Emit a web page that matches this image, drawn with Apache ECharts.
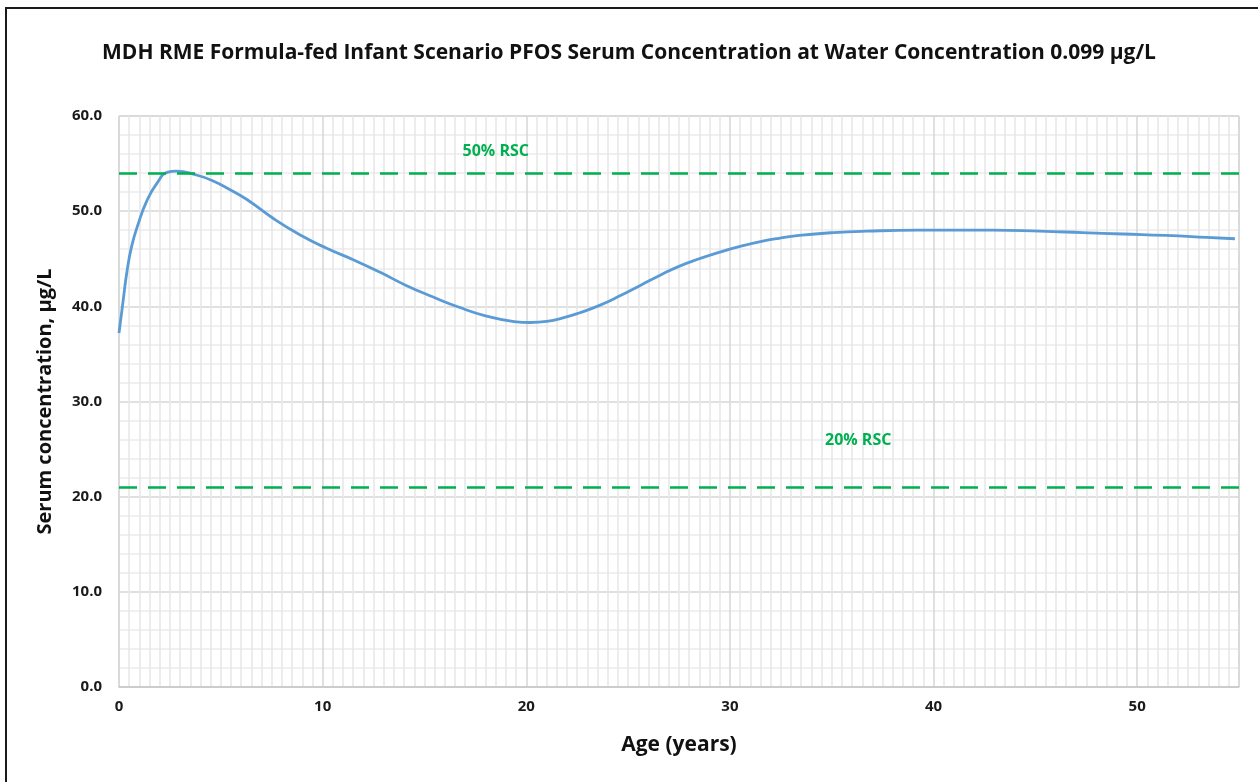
<!DOCTYPE html>
<html>
<head>
<meta charset="utf-8">
<script src="https://cdn.jsdelivr.net/npm/echarts@6/dist/echarts.min.js"></script>
<style>
  html, body { margin: 0; padding: 0; background: #fff; overflow: hidden; }
  #frame { position: absolute; left: 5px; top: 7px; width: 1270px; height: 800px; border: 2px solid #1a1a1a; box-sizing: border-box; }
  #chart { position: absolute; left: 0; top: 0; width: 1258px; height: 782px; }
</style>
</head>
<body>
<div id="frame"></div>
<div id="chart"></div>
<script>
// age (years) and serum concentration (µg/L)
const ages = [0, 0.21, 0.38, 0.62, 0.95, 1.35, 1.85, 2.4, 2.8, 3.8, 4.6, 5.5, 6.3, 7.6, 8.9,
  10.2, 11.5, 12.8, 14.1, 15.4, 16.7, 18.0, 19.4, 20.2, 21.0, 21.8, 22.6, 23.6, 24.6, 25.6, 26.6,
  27.5, 28.5, 29.5, 30.5, 31.5, 32.4, 33.4, 35.1, 36.7, 39.2, 42.9, 45.2, 47.3, 49.3, 51.4, 53.4, 54.8]
const serum = [37.2, 40.7, 43.5, 46.3, 48.7, 51.0, 52.9, 54.1, 54.2, 53.8, 53.2, 52.2, 51.2, 49.2, 47.5,
  46.1, 44.9, 43.6, 42.2, 41.0, 39.9, 39.0, 38.4, 38.3, 38.42, 38.78, 39.3, 40.1, 41.1, 42.2, 43.3,
  44.2, 45.0, 45.7, 46.3, 46.8, 47.15, 47.45, 47.75, 47.9, 48.0, 48.0, 47.9, 47.75, 47.6, 47.45, 47.25, 47.1]

// RSC reference levels
const rscNames = ['50% RSC', '20% RSC']
const rscLevels = [54.0, 21.0]
const rscLabelAt = [[18.5, 56.3], [36.3, 25.9]]

const FONT = '"Open Sans", "Noto Sans", sans-serif'
const green = '#00B050'

var myChart = echarts.init(document.getElementById('chart'))
const option = {
  animation: false,
  title: {
    text: 'MDH RME Formula-fed Infant Scenario PFOS Serum Concentration at Water Concentration 0.099 µg/L',
    left: 'center',
    top: 38,
    textStyle: { fontFamily: FONT, fontWeight: 'bold', fontSize: 21, color: '#111' }
  },
  grid: {
    left: 119, right: 19, top: 116, bottom: 95,
    show: true, borderColor: '#d4d4d4', borderWidth: 1
  },
  xAxis: {
    type: 'value',
    min: 0, max: 55, interval: 10,
    name: 'Age (years)',
    nameLocation: 'middle',
    nameGap: 48,
    nameTextStyle: { fontFamily: FONT, fontWeight: 'bold', fontSize: 21, color: '#111' },
    axisLine: { show: true, lineStyle: { color: '#c8c8c8', width: 1.5 } },
    axisTick: { show: false },
    axisLabel: { fontFamily: FONT, fontWeight: 'bold', fontSize: 15, color: '#1a1a1a', margin: 12, showMaxLabel: false },
    splitLine: { show: true, lineStyle: { color: '#d6d6d6', width: 1.5 } },
    minorTick: { show: false, splitNumber: 20 },
    minorSplitLine: { show: true, lineStyle: { color: '#e6e6e6', width: 1.5 } }
  },
  yAxis: {
    type: 'value',
    min: 0, max: 60, interval: 10,
    name: 'Serum concentration, µg/L',
    nameLocation: 'middle',
    nameGap: 64,
    nameTextStyle: { fontFamily: FONT, fontWeight: 'bold', fontSize: 20, color: '#111' },
    axisLine: { show: false },
    axisTick: { show: false },
    axisLabel: { fontFamily: FONT, fontWeight: 'bold', fontSize: 15, color: '#1a1a1a', margin: 17,
      formatter: v => v.toFixed(1) },
    splitLine: { show: true, lineStyle: { color: '#d6d6d6', width: 1.5 } },
    minorTick: { show: false, splitNumber: 5 },
    minorSplitLine: { show: true, lineStyle: { color: '#ebebeb', width: 1.5 } }
  },
  series: [
    {
      type: 'line',
      data: ages.map((a, i) => [a, serum[i]]),
      smooth: 0.5,
      showSymbol: false,
      lineStyle: { color: '#5B9BD5', width: 2.8 },
      markLine: {
        silent: true,
        symbol: 'none',
        label: { show: false },
        lineStyle: { color: green, width: 2.5, type: [18, 11] },
        data: rscLevels.map(v => ({ yAxis: v }))
      },
      markPoint: {
        silent: true,
        symbol: 'circle',
        symbolSize: 0,
        label: { show: true, position: 'inside', fontFamily: FONT, fontWeight: 'bold', fontSize: 16, color: green,
          formatter: p => p.name },
        data: rscNames.map((n, i) => ({ name: n, coord: rscLabelAt[i] }))
      }
    }
  ]
}
myChart.setOption(option)
</script>
</body>
</html>
